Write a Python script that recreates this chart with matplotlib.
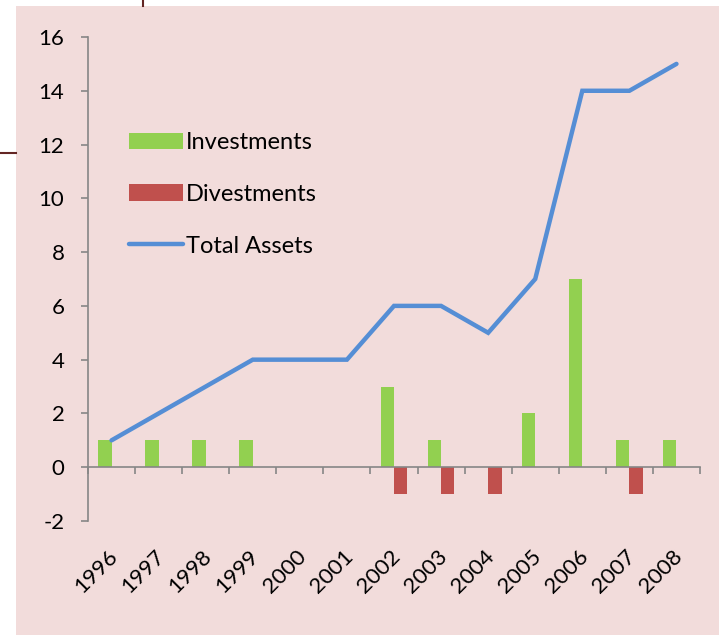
import numpy as np
import matplotlib.pyplot as plt
from matplotlib.patches import Rectangle
from matplotlib.lines import Line2D
from matplotlib.transforms import ScaledTranslation

years = ["1996", "1997", "1998", "1999", "2000", "2001", "2002",
         "2003", "2004", "2005", "2006", "2007", "2008"]
investments = [1, 1, 1, 1, 0, 0, 3, 1, 0, 2, 7, 1, 1]
divestments = [0, 0, 0, 0, 0, 0, -1, -1, -1, 0, 0, -1, 0]
total_assets = [1, 2, 3, 4, 4, 4, 6, 6, 5, 7, 14, 14, 15]

plt.rcParams['font.family'] = ['Lato', 'DejaVu Sans']

W, H = 719, 635
fig = plt.figure(figsize=(W / 100, H / 100), dpi=100)
fig.patch.set_facecolor("white")

# pink panel + slide leftovers
fig.add_artist(Rectangle((16 / W, 0), 1, 1 - 6 / H, transform=fig.transFigure,
                         facecolor="#F2DCDB", edgecolor="none", zorder=0))
fig.add_artist(Line2D([143 / W, 143 / W], [1, 1 - 6 / H], transform=fig.transFigure,
                      color="#632523", lw=1.5))
fig.add_artist(Line2D([0, 16 / W], [1 - 153 / H, 1 - 153 / H], transform=fig.transFigure,
                      color="#632523", lw=1.5))

ax = fig.add_axes([88 / W, 1 - 521 / H, (700 - 88) / W, (521 - 37) / H])
ax.set_facecolor("none")

# spines first (set_position resets the ticks)
for s in ["top", "right"]:
    ax.spines[s].set_visible(False)
ax.spines["left"].set_color("#868686")
ax.spines["left"].set_linewidth(1.2)
ax.spines["bottom"].set_color("#868686")
ax.spines["bottom"].set_linewidth(1.2)
ax.spines["bottom"].set_position(("data", 0))

x = np.arange(len(years))
bw = 0.285
b1 = ax.bar(x - bw / 2, investments, bw, color="#92D050", label="Investments", zorder=2)
b2 = ax.bar(x + bw / 2, divestments, bw, color="#C0504D", label="Divestments", zorder=2)
l1, = ax.plot(x, total_assets, color="#558ED5", lw=3.2, solid_capstyle="round",
              solid_joinstyle="miter", label="Total Assets", zorder=3)

ax.set_xlim(-0.5, len(years) - 0.5)
ax.set_ylim(-2, 16)
ax.set_yticks(range(-2, 17, 2))
ax.set_yticklabels([str(v) for v in range(-2, 17, 2)])

ax.set_xticks(x)
ax.set_xticks(np.arange(-0.5, len(years), 1), minor=True)
ax.tick_params(axis="x", which="major", length=0, pad=57, labelsize=16)
ax.tick_params(axis="x", which="minor", length=5, color="#868686", width=1.2,
               direction="out")
ax.tick_params(axis="y", length=5, color="#868686", width=1.2, pad=12, labelsize=16)
ax.set_xticklabels(years, rotation=45, ha="right", va="top", rotation_mode="anchor")
shift = ScaledTranslation(-4 / 100, 0, fig.dpi_scale_trans)
for lab in ax.get_xticklabels():
    lab.set_transform(lab.get_transform() + shift)

ax.legend([b1, b2, l1], ["Investments", "Divestments", "Total Assets"],
          loc="upper left", bbox_to_anchor=(0.032, 0.847), frameon=False,
          fontsize=17, handlelength=2.3, handleheight=0.7,
          labelspacing=1.3, handletextpad=0.1)

fig.savefig("out.png", dpi=100)
